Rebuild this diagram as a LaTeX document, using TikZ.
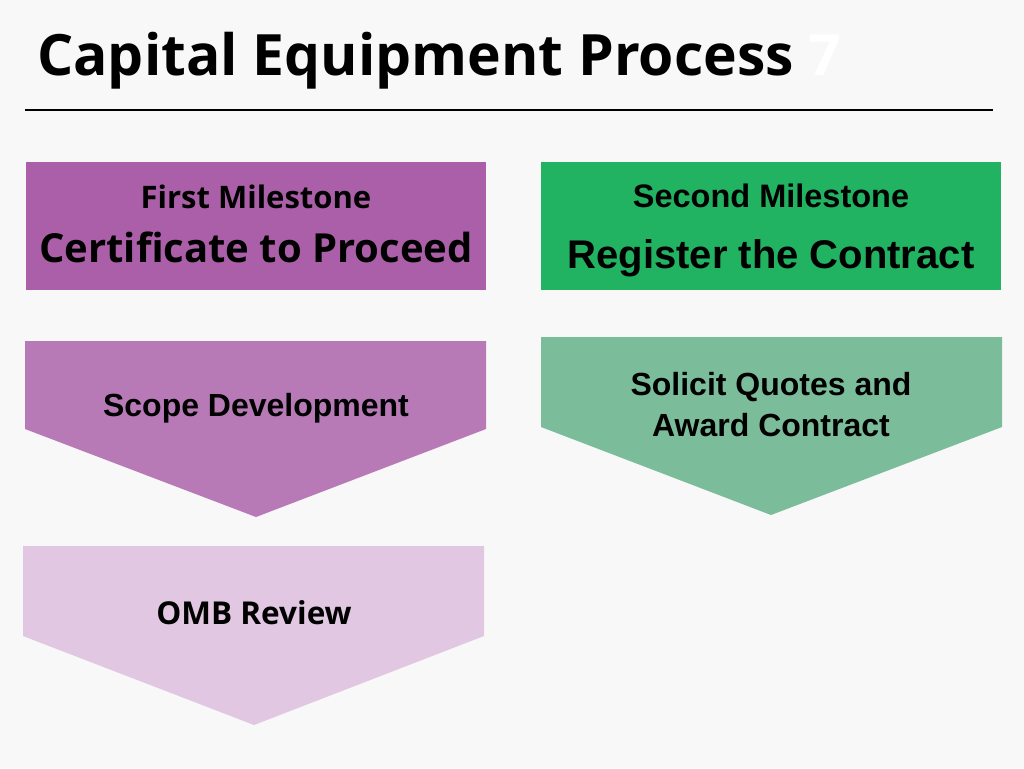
\documentclass[tikz,border=0pt]{standalone}
\usepackage{fontspec}
\setmainfont{Open Sans}
\newfontfamily\rob{Liberation Sans}
\definecolor{bg}{HTML}{F8F8F8}
\definecolor{purA}{HTML}{AA5FA8}
\definecolor{purB}{HTML}{B87AB7}
\definecolor{purC}{HTML}{E1C7E1}
\definecolor{grnA}{HTML}{21B262}
\definecolor{grnB}{HTML}{7BBD9A}
\begin{document}
\begin{tikzpicture}[x=1pt,y=-1pt,
  lbl/.style={inner sep=0pt, text=black, align=center},
  osf/.style={font=\bfseries\fontsize{#1}{#1}\selectfont},
  rbf/.style={font=\rob\bfseries\fontsize{#1}{41}\selectfont}]
\fill[bg] (0,0) rectangle (1024,768);
\useasboundingbox (0,0) rectangle (1024,768);
% title
\node[lbl, anchor=base west, osf=57] (title) at (37,75) {Capital Equipment Process \textcolor{white}{7}};
\draw[line width=1.5pt] (25,110) coordinate (l1) -- (993,110) coordinate (l2);
% milestone boxes
\fill[purA] (26,162) rectangle (486,290);
\fill[grnA] (541,162) rectangle (1001,290);
\node[lbl, anchor=base, osf=31] (m1) at (256,208) {First Milestone};
\node[lbl, anchor=base, osf=40] (c1) at (256,262) {Certificate to Proceed};
\node[lbl, anchor=base, rbf=32.5] (m2) at (771,207) {Second Milestone};
\node[lbl, anchor=base, rbf=40] (c2) at (771,268) {Register the Contract};
% arrows
\fill[purB] (25,341) -- (486,341) -- (486,429) -- (256,517) -- (25,429) -- cycle;
\node[lbl, rbf=32] (s1) at (256,408) {Scope Development};
\fill[grnB] (541,337) -- (1002,337) -- (1002,427) -- (771,515) -- (541,427) -- cycle;
\node[lbl, rbf=32] (s2) at (771,405) {Solicit Quotes and\\Award Contract};
\fill[purC] (23,546) -- (484,546) -- (484,636) -- (254,725) -- (23,636) -- cycle;
\node[lbl, osf=31.5] (s3) at (254,613) {OMB Review};
\end{tikzpicture}
\end{document}
